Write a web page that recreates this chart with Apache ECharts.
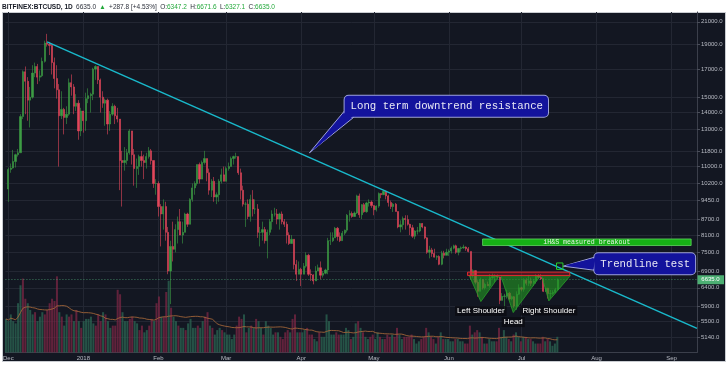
<!DOCTYPE html>
<html><head><meta charset="utf-8">
<script src="https://cdn.jsdelivr.net/npm/echarts@6/dist/echarts.min.js"></script>
<style>
html,body{margin:0;padding:0;background:#fff;width:728px;height:374px;overflow:hidden;}
#frame{position:absolute;left:2px;top:12px;width:724px;height:350px;background:#131722;border:1px solid #c9ccd1;box-sizing:border-box;}
#chart{position:absolute;left:0;top:0;width:728px;height:374px;}
</style></head><body>
<div id="frame"></div><div id="chart"></div>
<script>
// ---------- DATA (daily OHLC rows: [open, high, low, close]) ----------
const startDay = '2017-12-01';
const dec2017 = [
[9950,10950,9400,10860],[10860,11150,10700,10930],[10930,11850,10900,11250],[11250,11650,10950,11600],
[11600,11900,11500,11700],[11700,13900,11700,13750],[13750,16900,13600,16800],[16800,17200,13900,16100],
[16100,16400,13500,14800],[14800,15700,13100,15000],[15000,17300,14900,16700],[16700,17500,16400,17200],
[17200,17400,15900,16400],[16400,16900,16100,16500],[16500,17900,16400,17600],[17600,19300,17500,19100],
[19100,19900,18800,19000],[19000,19200,18100,18900],[18900,19000,16600,17500],[17500,17900,15600,16300],
[16300,17300,14900,15500],[15500,15900,11000,13800],[13800,15400,13600,14200],[14200,14300,12700,13700],
[13700,14400,13300,13900],[13900,16300,13800,16000],[16000,16600,15100,15700],[15700,15900,13900,14400],
[14400,15200,14100,14600],[14600,14800,12400,12900],[12900,14300,12600,14100]];
const jan2018 = [
[14100,14100,12800,13500],[13500,15300,12900,14900],[14900,15600,14600,15100],[15100,15300,14000,15200],
[15200,17100,14800,17000],[17000,17300,16200,17200],[17200,17200,15900,16200],[16200,16300,14000,15000],
[15000,15400,14300,14600],[14600,14900,13200,14800],[14800,14900,12700,13300],[13300,14100,12900,13900],
[13900,14600,13800,14400],[14400,14500,13300,13800],[13800,14300,13400,13600],[13600,13600,9900,11300],
[11300,11800,9200,11200],[11200,12000,10800,11300],[11300,11900,11100,11700],[11700,13000,11600,12900],
[12900,12900,11100,11600],[11600,11900,10100,10900],[10900,11400,10000,11000],[11000,11600,10600,11500],
[11500,11800,11000,11300],[11300,11600,10400,11200],[11200,11700,10900,11500],[11500,12000,11400,11800],
[11800,11900,11100,11300],[11300,11300,10000,10200],[10200,10400,9700,10200]];
const feb2018 = [
[10200,10300,8800,9200],[9200,9300,7700,8900],[8900,9500,8300,9200],[9200,9400,7900,8200],
[8200,8400,6800,6900],[6900,7900,5950,7700],[7700,8600,7200,7600],[7600,8500,7500,8300],
[8300,8800,7800,8600],[8600,9100,8100,8100],[8100,8600,7800,8200],[8200,8950,8200,8900],
[8900,8950,8400,8500],[8500,9550,8500,9500],[9500,10200,9400,10000],[10000,10300,9700,10200],
[10200,11100,10100,11100],[11100,11200,10200,10400],[10400,11300,10400,11200],[11200,11800,11100,11400],
[11400,11400,10300,10700],[10700,10900,9700,9900],[9900,10400,9600,10300],[10300,10500,9400,9600],
[9600,9800,9300,9700],[9700,10400,9400,10300],[10300,10900,10200,10600],[10600,11000,10300,10300]];
const mar2018 = [
[10300,11000,10300,10900],[10900,11200,10800,11000],[11000,11500,11000,11400],[11400,11550,11100,11500],
[11500,11700,11400,11500],[11500,11500,10600,10700],[10700,10900,9500,9900],[9900,10100,9200,9300],
[9300,9400,8400,9300],[9300,9500,8700,8800],[8800,9700,8600,9500],[9500,9900,8800,9100],
[9100,9500,8900,9100],[9100,9300,8000,8200],[8200,8400,7700,8200],[8200,8600,7900,8300],
[8300,8400,7800,7900],[7900,8300,7300,8200],[8200,8700,8100,8600],[8600,9050,8300,8900],
[8900,9150,8800,8900],[8900,9100,8500,8700],[8700,8950,8300,8900],[8900,9000,8500,8600],
[8600,8700,8400,8500],[8500,8600,7800,8100],[8100,8200,7750,7800],[7800,8100,7800,7950],
[7950,7950,6950,7100],[7100,7250,6600,6800],[6800,7200,6800,6950]];
const apr2018 = [
[6950,7000,6450,6800],[6800,7150,6800,7050],[7050,7500,7000,7400],[7400,7450,6750,6800],
[6800,6950,6600,6780],[6780,6800,6500,6600],[6600,7050,6600,6900],[6900,7100,6900,7000],
[7000,7200,6650,6770],[6770,6900,6700,6830],[6830,6970,6800,6930],[6930,8000,6800,7900],
[7900,8200,7750,7900],[7900,8200,7850,8000],[8000,8400,8000,8350],[8350,8400,7900,8050],
[8050,8200,7850,7900],[7900,8250,7900,8170],[8170,8300,8100,8280],[8280,8900,8200,8850],
[8850,9050,8600,8920],[8920,9000,8750,8800],[8800,9000,8800,8940],[8940,9700,8900,9650],
[9650,9750,8750,8870],[8870,9300,8700,9280],[9280,9350,8950,8990],[8990,9400,8950,9350],
[9350,9500,9200,9390],[9390,9450,9150,9240]];
const may2018 = [
[9240,9250,8850,9070],[9070,9250,9000,9220],[9220,9800,9150,9750],[9750,9750,9550,9700],
[9700,9900,9700,9850],[9850,9880,9500,9650],[9650,9700,9200,9370],[9370,9450,9100,9200],
[9200,9350,8980,9300],[9300,9350,9000,9000],[9000,9000,8350,8400],[8400,8650,8200,8480],
[8480,8800,8300,8720],[8720,8850,8300,8680],[8680,8850,8450,8500],[8500,8520,8100,8370],
[8370,8480,8000,8060],[8060,8280,7950,8250],[8250,8400,8120,8250],[8250,8550,8200,8530],
[8530,8550,8350,8400],[8400,8420,7950,8000],[8000,8020,7450,7500],[7500,7720,7300,7580],
[7580,7650,7350,7460],[7460,7620,7330,7340],[7340,7400,7250,7360],[7360,7400,7080,7110],
[7110,7550,7080,7470],[7470,7550,7300,7400],[7400,7620,7400,7500]];
const jun2018 = [
[7500,7600,7380,7540],[7540,7700,7460,7640],[7640,7760,7600,7720],[7720,7760,7450,7500],
[7500,7650,7400,7630],[7630,7700,7520,7650],[7650,7760,7620,7680],[7680,7700,7550,7620],
[7620,7680,7500,7530],[7530,7530,6650,6780],[6780,6950,6700,6910],[6910,6920,6500,6560],
[6560,6620,6150,6300],[6300,6700,6300,6640],[6640,6650,6350,6400],[6400,6550,6350,6500],
[6500,6580,6450,6460],[6460,6800,6400,6700],[6700,6820,6650,6730],[6730,6800,6570,6760],
[6760,6790,6680,6720],[6720,6730,5950,6050],[6050,6250,6050,6160],[6160,6230,5780,6170],
[6170,6350,6100,6250],[6250,6280,6050,6090],[6090,6180,6050,6150],[6150,6170,5850,5900],
[5900,6300,5800,6220],[6220,6500,6200,6400]];
const jul2018 = [
[6400,6430,6300,6360],[6360,6680,6290,6620],[6620,6680,6470,6530],[6530,6780,6450,6600],
[6600,6700,6450,6530],[6530,6650,6450,6600],[6600,6800,6520,6760],[6760,6800,6680,6710],
[6710,6800,6630,6660],[6660,6680,6280,6300],[6300,6400,6280,6390],[6390,6400,6100,6240],
[6240,6340,6100,6240],[6240,6330,6200,6270],[6270,6400,6250,6347.2],[6347.2,6671.6,6327.1,6635.0]];

// daily volume (thousand BTC)
const volDec = [75,70,85,70,65,110,150,165,120,110,95,85,90,70,80,90,85,95,110,120,115,170,90,80,60,85,80,85,70,95,70];
const volJan = [55,70,75,75,80,65,60,85,70,90,85,70,55,60,60,140,130,90,70,70,75,80,70,65,50,60,45,50,60,75,70];
const volFeb = [110,125,80,80,135,160,100,80,70,60,55,55,50,65,75,55,55,60,55,70,80,90,60,55,40,50,55,50];
const volMar = [45,40,40,30,40,60,80,75,85,45,55,60,55,75,70,55,40,70,60,55,40,45,45,35,30,45,50,45,75,85,45];
const volApr = [45,45,50,55,40,40,30,25,45,35,35,85,70,40,40,45,40,40,40,55,50,30,35,65,70,55,45,35,30,35];
const volMay = [40,30,45,35,30,30,40,35,40,35,55,40,30,35,35,35,40,30,20,25,30,35,55,45,35,30,20,35,45,30,30];
const volJun = [30,25,25,30,30,25,25,20,20,60,40,45,50,45,35,20,20,30,25,25,25,55,35,50,35,30,25,40,45,35];
const volJul = [25,35,35,30,30,25,20,20,20,35,25,30,25,15,20,35];

const monthTicks = ['2017-12-01','2018-01-01','2018-02-01','2018-03-01','2018-04-01','2018-05-01','2018-06-01','2018-07-01','2018-08-01','2018-09-01'];
const monthLabels = ['Dec','2018','Feb','Mar','Apr','May','Jun','Jul','Aug','Sep'];
const priceTicks = [5140,5500,5900,6400,6900,7500,8100,8700,9450,10200,11000,11800,13000,14000,15000,17000,19000,21000];
const lastPrice = 6635.0;
const trendline = [['2017-12-17T00:00Z',19200],['2018-09-11T12:00Z',5340]];

// ---------- build ----------
const DAY = 86400000;
const t0 = Date.parse(startDay + 'T00:00Z');
const ts = s => Date.parse(s.length <= 10 ? s + 'T00:00Z' : s);
const ohlc = [].concat(dec2017, jan2018, feb2018, mar2018, apr2018, may2018, jun2018, jul2018);
const vols = [].concat(volDec, volJan, volFeb, volMar, volApr, volMay, volJun, volJul);
const dates = ohlc.map((r, i) => t0 + i * DAY);
const monthTs = monthTicks.map(ts);

const UP = '#3d9c44', DOWN = '#e2475b';
const candleData = ohlc.map((r, i) => [dates[i], r[0], r[3], r[2], r[1]]);
const volData = vols.map((v, i) => ({value: [dates[i], v], itemStyle: {color: ohlc[i][3] >= ohlc[i][0] ? 'rgba(42,98,80,0.8)' : 'rgba(118,38,66,0.8)'}}));
const maData = vols.map((v, i) => {
  const s = vols.slice(Math.max(0, i - 19), i + 1);
  return [dates[i], s.reduce((a, b) => a + b, 0) / s.length];
});

const xMin = t0 - 1.2 * DAY, xMax = t0 + 284.5 * DAY;
const yMin = 4794, yMax = 21940;
const gridRect = {left: 3, right: 31, top: 12, bottom: 21.5};
const labelFont = 'Liberation Sans';

const chart = echarts.init(document.getElementById('chart'), null, {renderer: 'canvas'});
chart.setOption({
  animation: false,
  backgroundColor: 'transparent',
  grid: [Object.assign({}, gridRect), Object.assign({}, gridRect)],
  xAxis: [{
    type: 'value', gridIndex: 0, min: xMin, max: xMax, scale: true,
    axisLine: {show: true, onZero: false, lineStyle: {color: '#3b3f4b'}},
    axisTick: {show: false, customValues: monthTs},
    axisLabel: {customValues: monthTs, color: '#b8bbc4', fontSize: 6, margin: 3, fontFamily: labelFont,
      formatter: v => { const k = monthTs.findIndex(m => Math.abs(m - v) < DAY / 2); return k >= 0 ? monthLabels[k] : ''; }},
    splitLine: {show: true, lineStyle: {color: '#232733', width: 1}}
  }, {
    type: 'value', gridIndex: 1, min: xMin, max: xMax, scale: true, show: false
  }],
  yAxis: [{
    type: 'log', logBase: 10, gridIndex: 0, position: 'right', min: yMin, max: yMax,
    axisLine: {show: true, onZero: false, lineStyle: {color: '#3b3f4b'}},
    axisTick: {show: true, length: 3, customValues: priceTicks, lineStyle: {color: '#4a4e5a'}},
    axisLabel: {customValues: priceTicks, formatter: v => Number(v).toFixed(1), color: '#b8bbc4', fontSize: 6, margin: 4, fontFamily: labelFont},
    splitLine: {show: true, lineStyle: {color: '#232733', width: 1}}
  }, {
    type: 'value', gridIndex: 1, min: 0, max: 760, show: false
  }],
  series: [{
    type: 'bar', xAxisIndex: 1, yAxisIndex: 1, data: volData, barWidth: 2, z: 1, silent: true
  }, {
    type: 'line', xAxisIndex: 1, yAxisIndex: 1, data: maData, showSymbol: false, symbol: 'none',
    lineStyle: {color: '#a8693a', width: 1, opacity: 0.85}, z: 2, silent: true
  }, {
    type: 'candlestick', xAxisIndex: 0, yAxisIndex: 0, data: candleData,
    encode: {x: 0, y: [1, 2, 3, 4]},
    barWidth: 1.7,
    itemStyle: {color: UP, color0: DOWN, borderColor: UP, borderColor0: DOWN, borderWidth: 0.6},
    z: 3,
    markLine: {silent: true, symbol: 'none', label: {show: false},
      lineStyle: {color: 'rgba(80,170,120,0.7)', type: [1, 2], width: 1},
      data: [{yAxis: lastPrice}]}
  }, {
    type: 'line', xAxisIndex: 0, yAxisIndex: 0, data: trendline.map(p => [ts(p[0]), p[1]]),
    symbol: 'none', lineStyle: {color: '#19b9cb', width: 1.5}, z: 4, silent: true
  }]
});

// ---------- annotations (anchored in data coordinates) ----------
const P = (t, v) => chart.convertToPixel({xAxisIndex: 0, yAxisIndex: 0}, [ts(t), v]);
const g = [];
g.push({type: 'text', left: 2, top: 1.5, z: 100, style: {
  text: '{b|BITFINEX:BTCUSD, 1D} {n|6635.0} {g|▲} {n|+287.8 [+4.53%]} {n|O:}{g|6347.2} {n|H:}{g|6671.6} {n|L:}{g|6327.1} {n|C:}{g|6635.0}',
  rich: {
    b: {fontFamily: labelFont, fontSize: 6.5, fontWeight: 'bold', fill: '#131722'},
    n: {fontFamily: labelFont, fontSize: 6.5, fill: '#2a2e39'},
    g: {fontFamily: labelFont, fontSize: 6.5, fill: '#22a83a'}
  }}});

const b1 = P('2018-06-14T22:00Z', 7960), b2 = P('2018-09-09T02:00Z', 7732);
g.push({type: 'rect', z: 50, shape: {x: b1[0], y: b1[1], width: b2[0] - b1[0], height: b2[1] - b1[1]},
  style: {fill: '#16b016', stroke: '#5fd65f', lineWidth: 0.8}});
g.push({type: 'text', z: 51, x: (b1[0] + b2[0]) / 2, y: (b1[1] + b2[1]) / 2, style: {
  text: 'iH&S measured breakout', fontFamily: 'Liberation Mono', fontSize: 6.6, fill: '#e6f5e6',
  align: 'center', verticalAlign: 'middle'}});

const n1 = P('2018-06-08T17:00Z', 6864), n2 = P('2018-07-20T22:00Z', 6760);
g.push({type: 'rect', z: 50, shape: {x: n1[0], y: n1[1], width: n2[0] - n1[0], height: n2[1] - n1[1]},
  style: {fill: 'rgba(190,30,40,0.35)', stroke: '#e0282e', lineWidth: 1}});

const tris = [
  [['2018-06-09T10:00Z', 6760], ['2018-06-21T22:00Z', 6760], ['2018-06-14T05:00Z', 6018]],
  [['2018-06-22T10:00Z', 6760], ['2018-07-08T22:00Z', 6760], ['2018-06-27T14:00Z', 5730]],
  [['2018-07-09T07:00Z', 6760], ['2018-07-21T05:00Z', 6760], ['2018-07-12T07:00Z', 6037]]
];
const triLabels = ['Left Shoulder', 'Head', 'Right Shoulder'];
tris.forEach((tr, k) => {
  const pts = tr.map(p => P(p[0], p[1]));
  g.push({type: 'polygon', z: 49, shape: {points: pts}, style: {fill: 'rgba(34,150,34,0.62)', stroke: '#2aa02a', lineWidth: 0.8}});
  g.push({type: 'text', z: 60, x: pts[2][0], y: pts[2][1] + 9.5, style: {
    text: triLabels[k], fontFamily: labelFont, fontSize: 8, fill: '#ffffff', align: 'center', verticalAlign: 'middle',
    backgroundColor: 'rgba(10,10,14,0.7)', padding: [1, 2]}});
});

function callout(topLeft, tip, text, tailA, tailB) {
  const box = P(topLeft[0], topLeft[1]);
  const tp = P(tip[0], tip[1]);
  const fill = '#13139c', stroke = '#9ea3d8';
  const a = [box[0] + tailA[0], box[1] + tailA[1]], b = [box[0] + tailB[0], box[1] + tailB[1]];
  g.push({type: 'polygon', z: 70, shape: {points: [a, [tp[0] + tip[2], tp[1]], b]}, style: {fill: fill, stroke: stroke, lineWidth: 1}});
  g.push({type: 'text', z: 71, x: box[0], y: box[1], style: {
    text: text, fontFamily: 'Liberation Mono', fontSize: 10.7, fill: '#e8e8f4', align: 'left', verticalAlign: 'top',
    backgroundColor: fill, borderColor: stroke, borderWidth: 1, borderRadius: 4, padding: [5, 5, 5, 6]}});
  g.push({type: 'polygon', z: 72, shape: {points: [[a[0] + 1.2, a[1] + 0.8], [tp[0] + tip[2] + 2, tp[1] - 1], [b[0] - 0.8, b[1] - 1.2]]}, style: {fill: fill}});
}
callout(['2018-04-18T22:00Z', 15090], ['2018-04-04T10:00Z', 11700, 0], 'Long term downtrend resistance', [0, 15], [9, 21.6]);

const sq = P('2018-07-16T19:00Z', 7050);
g.push({type: 'rect', z: 75, shape: {x: sq[0] - 3.2, y: sq[1] - 3.2, width: 6.4, height: 6.4}, style: {fill: 'rgba(0,0,0,0)', stroke: '#2bd02b', lineWidth: 1}});
callout(['2018-07-31T02:00Z', 7468], ['2018-07-16T19:00Z', 7050, 3.5], 'Trendline test', [0, 4], [0, 17]);

const lp = P(startDay, lastPrice);
g.push({type: 'rect', z: 80, shape: {x: 697.5, y: lp[1] - 4.5, width: 26.5, height: 9}, style: {fill: '#4caf73'}});
g.push({type: 'text', z: 81, x: 710.5, y: lp[1], style: {text: lastPrice.toFixed(1), fontFamily: labelFont, fontSize: 6, fill: '#ffffff', align: 'center', verticalAlign: 'middle'}});

chart.setOption({graphic: g});
</script></body></html>
